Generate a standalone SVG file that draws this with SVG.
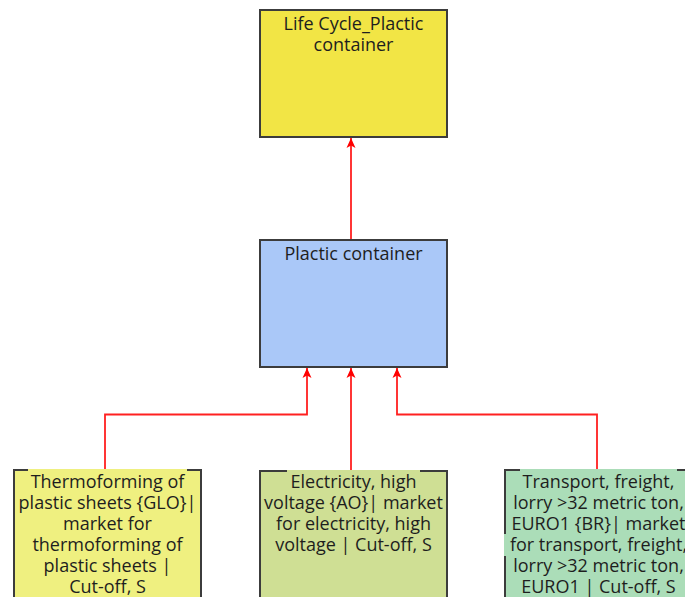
<svg xmlns="http://www.w3.org/2000/svg" width="685" height="597" viewBox="0 0 685 597">
<style>
.box{stroke:#3c3c3c;stroke-width:2}
.t{font-family:"Open Sans","Noto Sans","DejaVu Sans",sans-serif;font-size:18px;fill:#1e1e1e;text-anchor:middle}
.c{fill:none;stroke:#ff2020;stroke-width:1.8}
</style>
<defs>
<marker id="ah" markerUnits="userSpaceOnUse" markerWidth="11" markerHeight="11" refX="10" refY="5" orient="auto">
<path d="M0,0.5 L10,5 L0,9.5 L2.5,5 z" fill="#ff0000"/>
</marker>
</defs>
<rect width="685" height="597" fill="#ffffff"/>
<g id="connectors">
<path class="c" d="M351,240 L351,138" marker-end="url(#ah)"/>
<path class="c" d="M105,470 L105,414.5 L307,414.5 L307,368" marker-end="url(#ah)"/>
<path class="c" d="M351,471 L351,368" marker-end="url(#ah)"/>
<path class="c" d="M597,470 L597,414.5 L397,414.5 L397,368" marker-end="url(#ah)"/>
</g>
<g id="life-cycle">
<rect class="box" x="260" y="10" width="187" height="127" fill="#f2e545"/>
<text class="t" x="353.5" y="30">Life Cycle_Plactic</text>
<text class="t" x="353.5" y="51">container</text>
</g>
<g id="plactic-container">
<rect class="box" x="260" y="240" width="187" height="127" fill="#aac8f8"/>
<text class="t" x="353.5" y="260">Plactic container</text>
</g>
<g id="thermoforming">
<rect class="box" x="14" y="470" width="187" height="140" fill="#eff080"/>
<rect x="28" y="469" width="159" height="23" fill="#eff080"/>
<text class="t" x="107.5" y="488">Thermoforming of</text>
<text class="t" x="107.5" y="509">plastic sheets {GLO}|</text>
<text class="t" x="107.5" y="530">market for</text>
<text class="t" x="107.5" y="551">thermoforming of</text>
<text class="t" x="107.5" y="572">plastic sheets |</text>
<text class="t" x="107.5" y="593">Cut-off, S</text>
</g>
<g id="electricity">
<rect class="box" x="260" y="471" width="187" height="140" fill="#cfdf94"/>
<rect x="287" y="470" width="133" height="22" fill="#cfdf94"/>
<text class="t" x="353.5" y="488">Electricity, high</text>
<text class="t" x="353.5" y="509">voltage {AO}| market</text>
<text class="t" x="353.5" y="530">for electricity, high</text>
<text class="t" x="353.5" y="551">voltage | Cut-off, S</text>
</g>
<g id="transport">
<rect class="box" x="505" y="470" width="187" height="140" fill="#abddb8"/>
<rect x="520" y="469" width="157" height="23" fill="#abddb8"/>
<rect x="504" y="534" width="190" height="22" fill="#abddb8"/>
<text class="t" x="598.5" y="488">Transport, freight,</text>
<text class="t" x="598.5" y="509">lorry &gt;32 metric ton,</text>
<text class="t" x="598.5" y="530">EURO1 {BR}| market</text>
<text class="t" x="598.5" y="551">for transport, freight,</text>
<text class="t" x="598.5" y="572">lorry &gt;32 metric ton,</text>
<text class="t" x="598.5" y="593">EURO1 | Cut-off, S</text>
</g>
</svg>
